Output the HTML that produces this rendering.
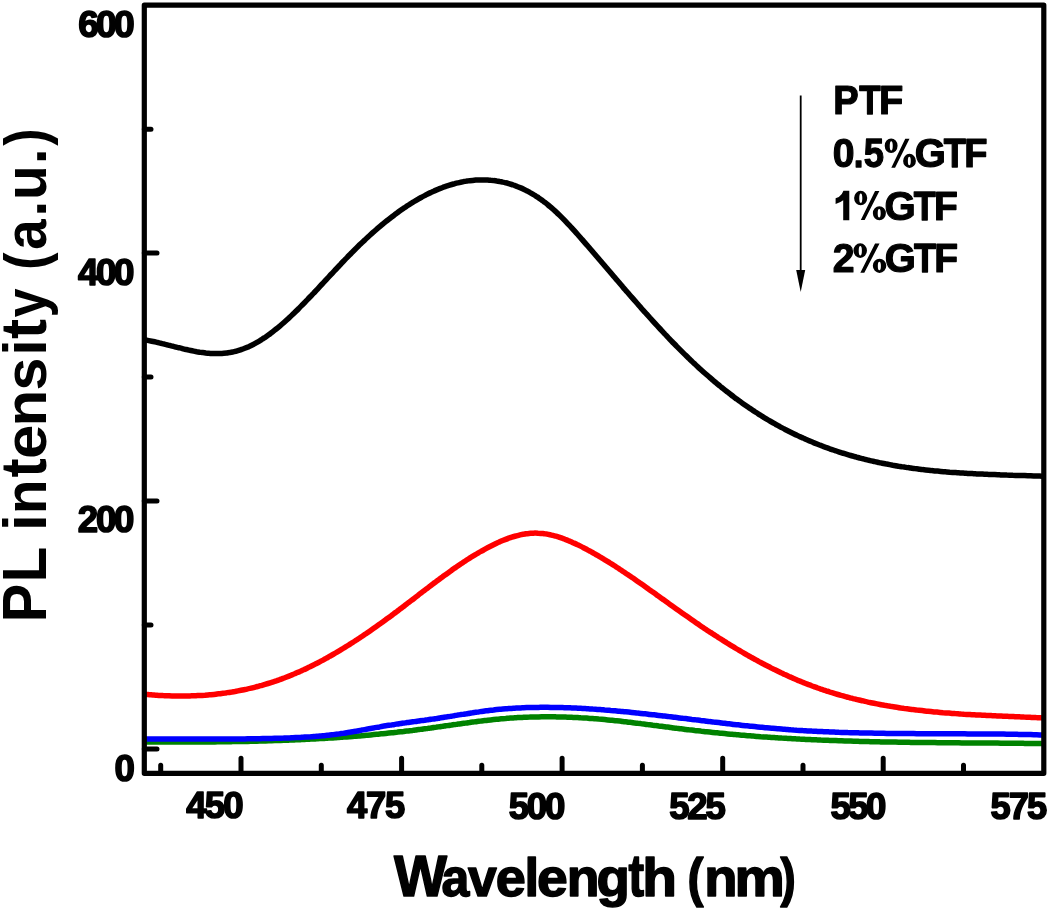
<!DOCTYPE html>
<html><head><meta charset="utf-8"><style>
html,body{margin:0;padding:0;background:#fff;}
svg{display:block;}
text{font-family:"Liberation Sans",sans-serif;font-weight:bold;fill:#000;}
</style></head><body>
<svg width="1050" height="912" viewBox="0 0 1050 912">
<rect width="1050" height="912" fill="#fff"/>
<g fill="none" stroke-linecap="round" stroke-linejoin="round" stroke-width="5.5">
<path d="M145.7,742.0 C146.2,742.0 147.7,742.0 148.7,742.0 C149.7,742.0 150.7,742.0 151.7,742.0 C152.7,742.0 153.7,742.0 154.7,742.0 C155.7,742.0 156.7,742.0 157.7,742.0 C158.7,742.0 159.7,742.0 160.7,742.0 C161.7,742.0 162.7,742.0 163.7,742.0 C164.7,742.0 165.7,742.0 166.7,742.0 C167.7,742.0 168.7,742.0 169.7,742.0 C170.7,742.0 171.7,742.0 172.7,742.0 C173.7,742.0 174.7,742.0 175.7,742.0 C176.7,742.0 177.7,742.0 178.7,742.0 C179.7,742.0 180.7,742.0 181.7,742.0 C182.7,742.0 183.7,742.0 184.7,742.0 C185.7,742.0 186.7,742.0 187.7,742.0 C188.7,742.0 189.7,742.0 190.7,742.0 C191.7,742.0 192.7,742.0 193.7,742.0 C194.7,742.0 195.7,742.0 196.7,742.0 C197.7,742.0 198.7,742.0 199.7,742.0 C200.7,742.0 201.7,742.0 202.7,742.0 C203.7,741.9 204.7,741.9 205.7,741.9 C206.7,741.9 207.7,741.9 208.7,741.9 C209.7,741.9 210.7,741.9 211.7,741.9 C212.7,741.9 213.7,741.9 214.7,741.9 C215.7,741.8 216.7,741.8 217.7,741.8 C218.7,741.8 219.7,741.8 220.7,741.8 C221.7,741.8 222.7,741.8 223.7,741.8 C224.7,741.7 225.7,741.7 226.7,741.7 C227.7,741.7 228.7,741.7 229.7,741.7 C230.7,741.7 231.7,741.6 232.7,741.6 C233.7,741.6 234.7,741.6 235.7,741.6 C236.7,741.6 237.7,741.6 238.7,741.5 C239.7,741.5 240.7,741.5 241.7,741.5 C242.7,741.5 243.7,741.4 244.7,741.4 C245.7,741.4 246.7,741.4 247.7,741.4 C248.7,741.3 249.7,741.3 250.7,741.3 C251.7,741.3 252.7,741.3 253.7,741.2 C254.7,741.2 255.7,741.2 256.7,741.2 C257.7,741.1 258.7,741.1 259.7,741.1 C260.7,741.1 261.7,741.0 262.7,741.0 C263.7,741.0 264.7,740.9 265.7,740.9 C266.7,740.9 267.7,740.9 268.7,740.8 C269.7,740.8 270.7,740.8 271.7,740.7 C272.7,740.7 273.7,740.7 274.7,740.6 C275.7,740.6 276.7,740.6 277.7,740.5 C278.7,740.5 279.7,740.5 280.7,740.4 C281.7,740.4 282.7,740.4 283.7,740.3 C284.7,740.3 285.7,740.3 286.7,740.2 C287.7,740.2 288.7,740.1 289.7,740.1 C290.7,740.1 291.7,740.0 292.7,740.0 C293.7,739.9 294.7,739.9 295.7,739.8 C296.7,739.8 297.7,739.8 298.7,739.7 C299.7,739.7 300.7,739.6 301.7,739.6 C302.7,739.5 303.7,739.5 304.7,739.4 C305.7,739.4 306.7,739.3 307.7,739.3 C308.7,739.2 309.7,739.2 310.7,739.1 C311.7,739.1 312.7,739.0 313.7,739.0 C314.7,738.9 315.7,738.9 316.7,738.8 C317.7,738.8 318.7,738.7 319.7,738.6 C320.7,738.6 321.7,738.5 322.7,738.5 C323.7,738.4 324.7,738.4 325.7,738.3 C326.7,738.2 327.7,738.2 328.7,738.1 C329.7,738.0 330.7,738.0 331.7,737.9 C332.7,737.9 333.7,737.8 334.7,737.7 C335.7,737.7 336.7,737.6 337.7,737.5 C338.7,737.5 339.7,737.4 340.7,737.3 C341.7,737.2 342.7,737.2 343.7,737.1 C344.7,737.0 345.7,737.0 346.7,736.9 C347.7,736.8 348.7,736.7 349.7,736.7 C350.7,736.6 351.7,736.5 352.7,736.4 C353.7,736.3 354.7,736.3 355.7,736.2 C356.7,736.1 357.7,736.0 358.7,735.9 C359.7,735.9 360.7,735.8 361.7,735.7 C362.7,735.6 363.7,735.5 364.7,735.4 C365.7,735.3 366.7,735.3 367.7,735.2 C368.7,735.1 369.7,735.0 370.7,734.9 C371.7,734.8 372.7,734.7 373.7,734.6 C374.7,734.5 375.7,734.4 376.7,734.3 C377.7,734.2 378.7,734.1 379.7,734.0 C380.7,733.9 381.7,733.8 382.7,733.7 C383.7,733.6 384.7,733.5 385.7,733.4 C386.7,733.3 387.7,733.2 388.7,733.1 C389.7,733.0 390.7,732.9 391.7,732.8 C392.7,732.7 393.7,732.6 394.7,732.5 C395.7,732.4 396.7,732.3 397.7,732.1 C398.7,732.0 399.7,731.9 400.7,731.8 C401.7,731.7 402.7,731.6 403.7,731.5 C404.7,731.3 405.7,731.2 406.7,731.1 C407.7,731.0 408.7,730.9 409.7,730.7 C410.7,730.6 411.7,730.5 412.7,730.4 C413.7,730.2 414.7,730.1 415.7,730.0 C416.7,729.9 417.7,729.7 418.7,729.6 C419.7,729.5 420.7,729.3 421.7,729.2 C422.7,729.1 423.7,728.9 424.7,728.8 C425.7,728.7 426.7,728.5 427.7,728.4 C428.7,728.2 429.7,728.1 430.7,728.0 C431.7,727.8 432.7,727.7 433.7,727.5 C434.7,727.4 435.7,727.3 436.7,727.1 C437.7,727.0 438.7,726.8 439.7,726.7 C440.7,726.6 441.7,726.4 442.7,726.3 C443.7,726.1 444.7,726.0 445.7,725.8 C446.7,725.7 447.7,725.6 448.7,725.4 C449.7,725.3 450.7,725.1 451.7,725.0 C452.7,724.8 453.7,724.7 454.7,724.6 C455.7,724.4 456.7,724.3 457.7,724.1 C458.7,724.0 459.7,723.9 460.7,723.7 C461.7,723.6 462.7,723.4 463.7,723.3 C464.7,723.2 465.7,723.0 466.7,722.9 C467.7,722.8 468.7,722.6 469.7,722.5 C470.7,722.3 471.7,722.2 472.7,722.1 C473.7,722.0 474.7,721.8 475.7,721.7 C476.7,721.6 477.7,721.4 478.7,721.3 C479.7,721.2 480.7,721.1 481.7,720.9 C482.7,720.8 483.7,720.7 484.7,720.6 C485.7,720.5 486.7,720.4 487.7,720.2 C488.7,720.1 489.7,720.0 490.7,719.9 C491.7,719.8 492.7,719.7 493.7,719.6 C494.7,719.5 495.7,719.4 496.7,719.3 C497.7,719.2 498.7,719.1 499.7,719.0 C500.7,718.9 501.7,718.8 502.7,718.7 C503.7,718.6 504.7,718.5 505.7,718.5 C506.7,718.4 507.7,718.3 508.7,718.2 C509.7,718.1 510.7,718.1 511.7,718.0 C512.7,717.9 513.7,717.9 514.7,717.8 C515.7,717.7 516.7,717.7 517.7,717.6 C518.7,717.6 519.7,717.5 520.7,717.5 C521.7,717.4 522.7,717.4 523.7,717.3 C524.7,717.3 525.7,717.2 526.7,717.2 C527.7,717.1 528.7,717.1 529.7,717.1 C530.7,717.0 531.7,717.0 532.7,717.0 C533.7,717.0 534.7,716.9 535.7,716.9 C536.7,716.9 537.7,716.9 538.7,716.9 C539.7,716.8 540.7,716.8 541.7,716.8 C542.7,716.8 543.7,716.8 544.7,716.8 C545.7,716.8 546.7,716.8 547.7,716.8 C548.7,716.8 549.7,716.8 550.7,716.8 C551.7,716.8 552.7,716.8 553.7,716.8 C554.7,716.8 555.7,716.9 556.7,716.9 C557.7,716.9 558.7,716.9 559.7,716.9 C560.7,717.0 561.7,717.0 562.7,717.0 C563.7,717.0 564.7,717.1 565.7,717.1 C566.7,717.1 567.7,717.2 568.7,717.2 C569.7,717.2 570.7,717.3 571.7,717.3 C572.7,717.4 573.7,717.4 574.7,717.5 C575.7,717.5 576.7,717.6 577.7,717.6 C578.7,717.7 579.7,717.7 580.7,717.8 C581.7,717.8 582.7,717.9 583.7,718.0 C584.7,718.0 585.7,718.1 586.7,718.1 C587.7,718.2 588.7,718.3 589.7,718.4 C590.7,718.4 591.7,718.5 592.7,718.6 C593.7,718.7 594.7,718.7 595.7,718.8 C596.7,718.9 597.7,719.0 598.7,719.1 C599.7,719.1 600.7,719.2 601.7,719.3 C602.7,719.4 603.7,719.5 604.7,719.6 C605.7,719.7 606.7,719.8 607.7,719.9 C608.7,720.0 609.7,720.1 610.7,720.2 C611.7,720.3 612.7,720.4 613.7,720.5 C614.7,720.6 615.7,720.7 616.7,720.8 C617.7,720.9 618.7,721.0 619.7,721.1 C620.7,721.2 621.7,721.4 622.7,721.5 C623.7,721.6 624.7,721.7 625.7,721.8 C626.7,721.9 627.7,722.1 628.7,722.2 C629.7,722.3 630.7,722.4 631.7,722.5 C632.7,722.7 633.7,722.8 634.7,722.9 C635.7,723.0 636.7,723.1 637.7,723.3 C638.7,723.4 639.7,723.5 640.7,723.6 C641.7,723.8 642.7,723.9 643.7,724.0 C644.7,724.1 645.7,724.3 646.7,724.4 C647.7,724.5 648.7,724.7 649.7,724.8 C650.7,724.9 651.7,725.0 652.7,725.2 C653.7,725.3 654.7,725.4 655.7,725.6 C656.7,725.7 657.7,725.8 658.7,726.0 C659.7,726.1 660.7,726.2 661.7,726.3 C662.7,726.5 663.7,726.6 664.7,726.7 C665.7,726.9 666.7,727.0 667.7,727.1 C668.7,727.2 669.7,727.4 670.7,727.5 C671.7,727.6 672.7,727.8 673.7,727.9 C674.7,728.0 675.7,728.1 676.7,728.3 C677.7,728.4 678.7,728.5 679.7,728.7 C680.7,728.8 681.7,728.9 682.7,729.0 C683.7,729.1 684.7,729.3 685.7,729.4 C686.7,729.5 687.7,729.6 688.7,729.8 C689.7,729.9 690.7,730.0 691.7,730.1 C692.7,730.2 693.7,730.3 694.7,730.5 C695.7,730.6 696.7,730.7 697.7,730.8 C698.7,730.9 699.7,731.0 700.7,731.1 C701.7,731.3 702.7,731.4 703.7,731.5 C704.7,731.6 705.7,731.7 706.7,731.8 C707.7,731.9 708.7,732.0 709.7,732.1 C710.7,732.2 711.7,732.3 712.7,732.4 C713.7,732.5 714.7,732.6 715.7,732.7 C716.7,732.8 717.7,732.9 718.7,733.0 C719.7,733.1 720.7,733.2 721.7,733.3 C722.7,733.4 723.7,733.5 724.7,733.6 C725.7,733.7 726.7,733.8 727.7,733.9 C728.7,734.0 729.7,734.1 730.7,734.2 C731.7,734.3 732.7,734.4 733.7,734.5 C734.7,734.6 735.7,734.6 736.7,734.7 C737.7,734.8 738.7,734.9 739.7,735.0 C740.7,735.1 741.7,735.2 742.7,735.2 C743.7,735.3 744.7,735.4 745.7,735.5 C746.7,735.6 747.7,735.7 748.7,735.7 C749.7,735.8 750.7,735.9 751.7,736.0 C752.7,736.1 753.7,736.1 754.7,736.2 C755.7,736.3 756.7,736.4 757.7,736.4 C758.7,736.5 759.7,736.6 760.7,736.7 C761.7,736.7 762.7,736.8 763.7,736.9 C764.7,736.9 765.7,737.0 766.7,737.1 C767.7,737.2 768.7,737.2 769.7,737.3 C770.7,737.4 771.7,737.4 772.7,737.5 C773.7,737.6 774.7,737.6 775.7,737.7 C776.7,737.8 777.7,737.8 778.7,737.9 C779.7,737.9 780.7,738.0 781.7,738.1 C782.7,738.1 783.7,738.2 784.7,738.3 C785.7,738.3 786.7,738.4 787.7,738.4 C788.7,738.5 789.7,738.5 790.7,738.6 C791.7,738.7 792.7,738.7 793.7,738.8 C794.7,738.8 795.7,738.9 796.7,738.9 C797.7,739.0 798.7,739.0 799.7,739.1 C800.7,739.1 801.7,739.2 802.7,739.2 C803.7,739.3 804.7,739.3 805.7,739.4 C806.7,739.4 807.7,739.5 808.7,739.5 C809.7,739.6 810.7,739.6 811.7,739.7 C812.7,739.7 813.7,739.8 814.7,739.8 C815.7,739.8 816.7,739.9 817.7,739.9 C818.7,740.0 819.7,740.0 820.7,740.1 C821.7,740.1 822.7,740.1 823.7,740.2 C824.7,740.2 825.7,740.3 826.7,740.3 C827.7,740.3 828.7,740.4 829.7,740.4 C830.7,740.5 831.7,740.5 832.7,740.5 C833.7,740.6 834.7,740.6 835.7,740.6 C836.7,740.7 837.7,740.7 838.7,740.7 C839.7,740.8 840.7,740.8 841.7,740.8 C842.7,740.9 843.7,740.9 844.7,740.9 C845.7,741.0 846.7,741.0 847.7,741.0 C848.7,741.1 849.7,741.1 850.7,741.1 C851.7,741.2 852.7,741.2 853.7,741.2 C854.7,741.2 855.7,741.3 856.7,741.3 C857.7,741.3 858.7,741.4 859.7,741.4 C860.7,741.4 861.7,741.4 862.7,741.5 C863.7,741.5 864.7,741.5 865.7,741.5 C866.7,741.6 867.7,741.6 868.7,741.6 C869.7,741.6 870.7,741.7 871.7,741.7 C872.7,741.7 873.7,741.7 874.7,741.7 C875.7,741.8 876.7,741.8 877.7,741.8 C878.7,741.8 879.7,741.9 880.7,741.9 C881.7,741.9 882.7,741.9 883.7,741.9 C884.7,742.0 885.7,742.0 886.7,742.0 C887.7,742.0 888.7,742.0 889.7,742.0 C890.7,742.1 891.7,742.1 892.7,742.1 C893.7,742.1 894.7,742.1 895.7,742.1 C896.7,742.2 897.7,742.2 898.7,742.2 C899.7,742.2 900.7,742.2 901.7,742.2 C902.7,742.3 903.7,742.3 904.7,742.3 C905.7,742.3 906.7,742.3 907.7,742.3 C908.7,742.3 909.7,742.4 910.7,742.4 C911.7,742.4 912.7,742.4 913.7,742.4 C914.7,742.4 915.7,742.4 916.7,742.4 C917.7,742.5 918.7,742.5 919.7,742.5 C920.7,742.5 921.7,742.5 922.7,742.5 C923.7,742.5 924.7,742.5 925.7,742.5 C926.7,742.6 927.7,742.6 928.7,742.6 C929.7,742.6 930.7,742.6 931.7,742.6 C932.7,742.6 933.7,742.6 934.7,742.6 C935.7,742.7 936.7,742.7 937.7,742.7 C938.7,742.7 939.7,742.7 940.7,742.7 C941.7,742.7 942.7,742.7 943.7,742.7 C944.7,742.7 945.7,742.7 946.7,742.7 C947.7,742.8 948.7,742.8 949.7,742.8 C950.7,742.8 951.7,742.8 952.7,742.8 C953.7,742.8 954.7,742.8 955.7,742.8 C956.7,742.8 957.7,742.8 958.7,742.8 C959.7,742.9 960.7,742.9 961.7,742.9 C962.7,742.9 963.7,742.9 964.7,742.9 C965.7,742.9 966.7,742.9 967.7,742.9 C968.7,742.9 969.7,742.9 970.7,742.9 C971.7,742.9 972.7,742.9 973.7,743.0 C974.7,743.0 975.7,743.0 976.7,743.0 C977.7,743.0 978.7,743.0 979.7,743.0 C980.7,743.0 981.7,743.0 982.7,743.0 C983.7,743.0 984.7,743.0 985.7,743.0 C986.7,743.0 987.7,743.1 988.7,743.1 C989.7,743.1 990.7,743.1 991.7,743.1 C992.7,743.1 993.7,743.1 994.7,743.1 C995.7,743.1 996.7,743.1 997.7,743.1 C998.7,743.1 999.7,743.1 1000.7,743.2 C1001.7,743.2 1002.7,743.2 1003.7,743.2 C1004.7,743.2 1005.7,743.2 1006.7,743.2 C1007.7,743.2 1008.7,743.2 1009.7,743.2 C1010.7,743.2 1011.7,743.2 1012.7,743.3 C1013.7,743.3 1014.7,743.3 1015.7,743.3 C1016.7,743.3 1017.7,743.3 1018.7,743.3 C1019.7,743.3 1020.7,743.3 1021.7,743.3 C1022.7,743.3 1023.7,743.4 1024.7,743.4 C1025.7,743.4 1026.7,743.4 1027.7,743.4 C1028.7,743.4 1029.7,743.4 1030.7,743.4 C1031.7,743.4 1032.7,743.5 1033.7,743.5 C1034.7,743.5 1035.7,743.5 1036.7,743.5 C1037.7,743.5 1038.7,743.5 1039.7,743.5 C1040.7,743.6 1042.2,743.6 1042.7,743.6 C1043.2,743.6 1043.0,743.6 1043.0,743.6" stroke="#008200"/>
<path d="M145.7,739.0 C146.2,739.0 147.7,739.0 148.7,739.0 C149.7,739.0 150.7,739.0 151.7,739.0 C152.7,739.0 153.7,739.0 154.7,739.0 C155.7,739.0 156.7,739.0 157.7,739.0 C158.7,739.0 159.7,739.0 160.7,739.0 C161.7,739.0 162.7,739.0 163.7,739.0 C164.7,739.0 165.7,739.0 166.7,739.0 C167.7,739.0 168.7,739.0 169.7,739.0 C170.7,739.0 171.7,739.0 172.7,739.0 C173.7,739.0 174.7,739.0 175.7,739.0 C176.7,739.0 177.7,739.0 178.7,739.0 C179.7,739.0 180.7,739.0 181.7,739.0 C182.7,739.0 183.7,739.0 184.7,739.1 C185.7,739.1 186.7,739.1 187.7,739.1 C188.7,739.1 189.7,739.1 190.7,739.1 C191.7,739.1 192.7,739.1 193.7,739.1 C194.7,739.1 195.7,739.1 196.7,739.1 C197.7,739.1 198.7,739.1 199.7,739.1 C200.7,739.1 201.7,739.1 202.7,739.1 C203.7,739.1 204.7,739.1 205.7,739.1 C206.7,739.1 207.7,739.1 208.7,739.1 C209.7,739.1 210.7,739.1 211.7,739.1 C212.7,739.1 213.7,739.1 214.7,739.1 C215.7,739.1 216.7,739.1 217.7,739.1 C218.7,739.1 219.7,739.0 220.7,739.0 C221.7,739.0 222.7,739.0 223.7,739.0 C224.7,739.0 225.7,739.0 226.7,739.0 C227.7,739.0 228.7,739.0 229.7,739.0 C230.7,739.0 231.7,739.0 232.7,739.0 C233.7,739.0 234.7,739.0 235.7,739.0 C236.7,739.0 237.7,739.0 238.7,738.9 C239.7,738.9 240.7,738.9 241.7,738.9 C242.7,738.9 243.7,738.9 244.7,738.9 C245.7,738.9 246.7,738.9 247.7,738.8 C248.7,738.8 249.7,738.8 250.7,738.8 C251.7,738.8 252.7,738.8 253.7,738.8 C254.7,738.8 255.7,738.7 256.7,738.7 C257.7,738.7 258.7,738.7 259.7,738.7 C260.7,738.6 261.7,738.6 262.7,738.6 C263.7,738.6 264.7,738.6 265.7,738.5 C266.7,738.5 267.7,738.5 268.7,738.5 C269.7,738.5 270.7,738.4 271.7,738.4 C272.7,738.4 273.7,738.4 274.7,738.3 C275.7,738.3 276.7,738.3 277.7,738.3 C278.7,738.2 279.7,738.2 280.7,738.2 C281.7,738.1 282.7,738.1 283.7,738.1 C284.7,738.0 285.7,738.0 286.7,738.0 C287.7,737.9 288.7,737.9 289.7,737.9 C290.7,737.8 291.7,737.8 292.7,737.7 C293.7,737.7 294.7,737.7 295.7,737.6 C296.7,737.6 297.7,737.5 298.7,737.5 C299.7,737.4 300.7,737.4 301.7,737.3 C302.7,737.3 303.7,737.2 304.7,737.1 C305.7,737.1 306.7,737.0 307.7,737.0 C308.7,736.9 309.7,736.8 310.7,736.8 C311.7,736.7 312.7,736.6 313.7,736.5 C314.7,736.5 315.7,736.4 316.7,736.3 C317.7,736.2 318.7,736.1 319.7,736.0 C320.7,736.0 321.7,735.9 322.7,735.8 C323.7,735.7 324.7,735.6 325.7,735.5 C326.7,735.4 327.7,735.3 328.7,735.2 C329.7,735.0 330.7,734.9 331.7,734.8 C332.7,734.7 333.7,734.6 334.7,734.4 C335.7,734.3 336.7,734.2 337.7,734.1 C338.7,733.9 339.7,733.8 340.7,733.6 C341.7,733.5 342.7,733.3 343.7,733.2 C344.7,733.0 345.7,732.9 346.7,732.7 C347.7,732.6 348.7,732.4 349.7,732.2 C350.7,732.1 351.7,731.9 352.7,731.7 C353.7,731.6 354.7,731.4 355.7,731.2 C356.7,731.0 357.7,730.9 358.7,730.7 C359.7,730.5 360.7,730.3 361.7,730.1 C362.7,730.0 363.7,729.8 364.7,729.6 C365.7,729.4 366.7,729.2 367.7,729.0 C368.7,728.9 369.7,728.7 370.7,728.5 C371.7,728.3 372.7,728.1 373.7,727.9 C374.7,727.8 375.7,727.6 376.7,727.4 C377.7,727.2 378.7,727.0 379.7,726.9 C380.7,726.7 381.7,726.5 382.7,726.3 C383.7,726.2 384.7,726.0 385.7,725.8 C386.7,725.7 387.7,725.5 388.7,725.3 C389.7,725.2 390.7,725.0 391.7,724.9 C392.7,724.7 393.7,724.5 394.7,724.4 C395.7,724.2 396.7,724.1 397.7,723.9 C398.7,723.8 399.7,723.6 400.7,723.5 C401.7,723.4 402.7,723.2 403.7,723.1 C404.7,722.9 405.7,722.8 406.7,722.6 C407.7,722.5 408.7,722.4 409.7,722.2 C410.7,722.1 411.7,722.0 412.7,721.8 C413.7,721.7 414.7,721.5 415.7,721.4 C416.7,721.3 417.7,721.1 418.7,721.0 C419.7,720.9 420.7,720.7 421.7,720.6 C422.7,720.4 423.7,720.3 424.7,720.2 C425.7,720.0 426.7,719.9 427.7,719.8 C428.7,719.6 429.7,719.5 430.7,719.3 C431.7,719.2 432.7,719.0 433.7,718.9 C434.7,718.8 435.7,718.6 436.7,718.5 C437.7,718.3 438.7,718.2 439.7,718.0 C440.7,717.9 441.7,717.7 442.7,717.5 C443.7,717.4 444.7,717.2 445.7,717.1 C446.7,716.9 447.7,716.7 448.7,716.6 C449.7,716.4 450.7,716.3 451.7,716.1 C452.7,715.9 453.7,715.8 454.7,715.6 C455.7,715.5 456.7,715.3 457.7,715.1 C458.7,715.0 459.7,714.8 460.7,714.6 C461.7,714.5 462.7,714.3 463.7,714.2 C464.7,714.0 465.7,713.8 466.7,713.7 C467.7,713.5 468.7,713.4 469.7,713.2 C470.7,713.1 471.7,712.9 472.7,712.8 C473.7,712.6 474.7,712.4 475.7,712.3 C476.7,712.2 477.7,712.0 478.7,711.9 C479.7,711.7 480.7,711.6 481.7,711.4 C482.7,711.3 483.7,711.2 484.7,711.0 C485.7,710.9 486.7,710.8 487.7,710.7 C488.7,710.5 489.7,710.4 490.7,710.3 C491.7,710.2 492.7,710.1 493.7,710.0 C494.7,709.8 495.7,709.7 496.7,709.6 C497.7,709.5 498.7,709.4 499.7,709.3 C500.7,709.3 501.7,709.2 502.7,709.1 C503.7,709.0 504.7,708.9 505.7,708.8 C506.7,708.7 507.7,708.7 508.7,708.6 C509.7,708.5 510.7,708.4 511.7,708.4 C512.7,708.3 513.7,708.3 514.7,708.2 C515.7,708.1 516.7,708.1 517.7,708.0 C518.7,708.0 519.7,707.9 520.7,707.9 C521.7,707.8 522.7,707.8 523.7,707.7 C524.7,707.7 525.7,707.7 526.7,707.6 C527.7,707.6 528.7,707.6 529.7,707.5 C530.7,707.5 531.7,707.5 532.7,707.5 C533.7,707.4 534.7,707.4 535.7,707.4 C536.7,707.4 537.7,707.4 538.7,707.4 C539.7,707.4 540.7,707.3 541.7,707.3 C542.7,707.3 543.7,707.3 544.7,707.3 C545.7,707.3 546.7,707.3 547.7,707.3 C548.7,707.3 549.7,707.3 550.7,707.4 C551.7,707.4 552.7,707.4 553.7,707.4 C554.7,707.4 555.7,707.4 556.7,707.4 C557.7,707.5 558.7,707.5 559.7,707.5 C560.7,707.5 561.7,707.6 562.7,707.6 C563.7,707.6 564.7,707.7 565.7,707.7 C566.7,707.7 567.7,707.8 568.7,707.8 C569.7,707.8 570.7,707.9 571.7,707.9 C572.7,708.0 573.7,708.0 574.7,708.0 C575.7,708.1 576.7,708.1 577.7,708.2 C578.7,708.2 579.7,708.3 580.7,708.3 C581.7,708.4 582.7,708.5 583.7,708.5 C584.7,708.6 585.7,708.6 586.7,708.7 C587.7,708.8 588.7,708.8 589.7,708.9 C590.7,708.9 591.7,709.0 592.7,709.1 C593.7,709.1 594.7,709.2 595.7,709.3 C596.7,709.4 597.7,709.4 598.7,709.5 C599.7,709.6 600.7,709.6 601.7,709.7 C602.7,709.8 603.7,709.9 604.7,710.0 C605.7,710.0 606.7,710.1 607.7,710.2 C608.7,710.3 609.7,710.4 610.7,710.5 C611.7,710.5 612.7,710.6 613.7,710.7 C614.7,710.8 615.7,710.9 616.7,711.0 C617.7,711.1 618.7,711.2 619.7,711.3 C620.7,711.4 621.7,711.4 622.7,711.5 C623.7,711.6 624.7,711.7 625.7,711.8 C626.7,711.9 627.7,712.0 628.7,712.1 C629.7,712.2 630.7,712.3 631.7,712.4 C632.7,712.5 633.7,712.6 634.7,712.7 C635.7,712.8 636.7,712.9 637.7,713.1 C638.7,713.2 639.7,713.3 640.7,713.4 C641.7,713.5 642.7,713.6 643.7,713.7 C644.7,713.8 645.7,713.9 646.7,714.0 C647.7,714.1 648.7,714.3 649.7,714.4 C650.7,714.5 651.7,714.6 652.7,714.7 C653.7,714.8 654.7,714.9 655.7,715.0 C656.7,715.2 657.7,715.3 658.7,715.4 C659.7,715.5 660.7,715.6 661.7,715.7 C662.7,715.9 663.7,716.0 664.7,716.1 C665.7,716.2 666.7,716.3 667.7,716.4 C668.7,716.6 669.7,716.7 670.7,716.8 C671.7,716.9 672.7,717.0 673.7,717.2 C674.7,717.3 675.7,717.4 676.7,717.5 C677.7,717.6 678.7,717.8 679.7,717.9 C680.7,718.0 681.7,718.1 682.7,718.3 C683.7,718.4 684.7,718.5 685.7,718.6 C686.7,718.7 687.7,718.9 688.7,719.0 C689.7,719.1 690.7,719.2 691.7,719.4 C692.7,719.5 693.7,719.6 694.7,719.7 C695.7,719.8 696.7,720.0 697.7,720.1 C698.7,720.2 699.7,720.3 700.7,720.5 C701.7,720.6 702.7,720.7 703.7,720.8 C704.7,720.9 705.7,721.1 706.7,721.2 C707.7,721.3 708.7,721.4 709.7,721.6 C710.7,721.7 711.7,721.8 712.7,721.9 C713.7,722.0 714.7,722.2 715.7,722.3 C716.7,722.4 717.7,722.5 718.7,722.6 C719.7,722.7 720.7,722.9 721.7,723.0 C722.7,723.1 723.7,723.2 724.7,723.3 C725.7,723.5 726.7,723.6 727.7,723.7 C728.7,723.8 729.7,723.9 730.7,724.0 C731.7,724.1 732.7,724.3 733.7,724.4 C734.7,724.5 735.7,724.6 736.7,724.7 C737.7,724.8 738.7,724.9 739.7,725.0 C740.7,725.2 741.7,725.3 742.7,725.4 C743.7,725.5 744.7,725.6 745.7,725.7 C746.7,725.8 747.7,725.9 748.7,726.0 C749.7,726.1 750.7,726.2 751.7,726.3 C752.7,726.4 753.7,726.5 754.7,726.6 C755.7,726.7 756.7,726.8 757.7,726.9 C758.7,727.0 759.7,727.1 760.7,727.2 C761.7,727.3 762.7,727.4 763.7,727.5 C764.7,727.6 765.7,727.7 766.7,727.8 C767.7,727.9 768.7,728.0 769.7,728.1 C770.7,728.2 771.7,728.3 772.7,728.3 C773.7,728.4 774.7,728.5 775.7,728.6 C776.7,728.7 777.7,728.8 778.7,728.8 C779.7,728.9 780.7,729.0 781.7,729.1 C782.7,729.2 783.7,729.2 784.7,729.3 C785.7,729.4 786.7,729.5 787.7,729.5 C788.7,729.6 789.7,729.7 790.7,729.8 C791.7,729.8 792.7,729.9 793.7,730.0 C794.7,730.0 795.7,730.1 796.7,730.2 C797.7,730.2 798.7,730.3 799.7,730.4 C800.7,730.4 801.7,730.5 802.7,730.6 C803.7,730.6 804.7,730.7 805.7,730.7 C806.7,730.8 807.7,730.9 808.7,730.9 C809.7,731.0 810.7,731.0 811.7,731.1 C812.7,731.1 813.7,731.2 814.7,731.2 C815.7,731.3 816.7,731.3 817.7,731.4 C818.7,731.4 819.7,731.5 820.7,731.5 C821.7,731.6 822.7,731.6 823.7,731.7 C824.7,731.7 825.7,731.8 826.7,731.8 C827.7,731.8 828.7,731.9 829.7,731.9 C830.7,732.0 831.7,732.0 832.7,732.0 C833.7,732.1 834.7,732.1 835.7,732.2 C836.7,732.2 837.7,732.2 838.7,732.3 C839.7,732.3 840.7,732.3 841.7,732.4 C842.7,732.4 843.7,732.4 844.7,732.5 C845.7,732.5 846.7,732.5 847.7,732.6 C848.7,732.6 849.7,732.6 850.7,732.7 C851.7,732.7 852.7,732.7 853.7,732.7 C854.7,732.8 855.7,732.8 856.7,732.8 C857.7,732.8 858.7,732.9 859.7,732.9 C860.7,732.9 861.7,732.9 862.7,733.0 C863.7,733.0 864.7,733.0 865.7,733.0 C866.7,733.0 867.7,733.1 868.7,733.1 C869.7,733.1 870.7,733.1 871.7,733.1 C872.7,733.2 873.7,733.2 874.7,733.2 C875.7,733.2 876.7,733.2 877.7,733.3 C878.7,733.3 879.7,733.3 880.7,733.3 C881.7,733.3 882.7,733.3 883.7,733.3 C884.7,733.4 885.7,733.4 886.7,733.4 C887.7,733.4 888.7,733.4 889.7,733.4 C890.7,733.4 891.7,733.4 892.7,733.5 C893.7,733.5 894.7,733.5 895.7,733.5 C896.7,733.5 897.7,733.5 898.7,733.5 C899.7,733.5 900.7,733.5 901.7,733.5 C902.7,733.6 903.7,733.6 904.7,733.6 C905.7,733.6 906.7,733.6 907.7,733.6 C908.7,733.6 909.7,733.6 910.7,733.6 C911.7,733.6 912.7,733.6 913.7,733.6 C914.7,733.6 915.7,733.6 916.7,733.7 C917.7,733.7 918.7,733.7 919.7,733.7 C920.7,733.7 921.7,733.7 922.7,733.7 C923.7,733.7 924.7,733.7 925.7,733.7 C926.7,733.7 927.7,733.7 928.7,733.7 C929.7,733.7 930.7,733.7 931.7,733.7 C932.7,733.7 933.7,733.7 934.7,733.7 C935.7,733.7 936.7,733.7 937.7,733.7 C938.7,733.7 939.7,733.7 940.7,733.8 C941.7,733.8 942.7,733.8 943.7,733.8 C944.7,733.8 945.7,733.8 946.7,733.8 C947.7,733.8 948.7,733.8 949.7,733.8 C950.7,733.8 951.7,733.8 952.7,733.8 C953.7,733.8 954.7,733.8 955.7,733.8 C956.7,733.8 957.7,733.8 958.7,733.8 C959.7,733.8 960.7,733.8 961.7,733.8 C962.7,733.8 963.7,733.8 964.7,733.8 C965.7,733.8 966.7,733.8 967.7,733.9 C968.7,733.9 969.7,733.9 970.7,733.9 C971.7,733.9 972.7,733.9 973.7,733.9 C974.7,733.9 975.7,733.9 976.7,733.9 C977.7,733.9 978.7,733.9 979.7,733.9 C980.7,733.9 981.7,733.9 982.7,733.9 C983.7,733.9 984.7,734.0 985.7,734.0 C986.7,734.0 987.7,734.0 988.7,734.0 C989.7,734.0 990.7,734.0 991.7,734.0 C992.7,734.0 993.7,734.0 994.7,734.0 C995.7,734.1 996.7,734.1 997.7,734.1 C998.7,734.1 999.7,734.1 1000.7,734.1 C1001.7,734.1 1002.7,734.1 1003.7,734.1 C1004.7,734.2 1005.7,734.2 1006.7,734.2 C1007.7,734.2 1008.7,734.2 1009.7,734.2 C1010.7,734.2 1011.7,734.3 1012.7,734.3 C1013.7,734.3 1014.7,734.3 1015.7,734.3 C1016.7,734.3 1017.7,734.4 1018.7,734.4 C1019.7,734.4 1020.7,734.4 1021.7,734.4 C1022.7,734.5 1023.7,734.5 1024.7,734.5 C1025.7,734.5 1026.7,734.5 1027.7,734.6 C1028.7,734.6 1029.7,734.6 1030.7,734.6 C1031.7,734.7 1032.7,734.7 1033.7,734.7 C1034.7,734.7 1035.7,734.8 1036.7,734.8 C1037.7,734.8 1038.7,734.8 1039.7,734.9 C1040.7,734.9 1042.2,734.9 1042.7,735.0 C1043.2,735.0 1043.0,735.0 1043.0,735.0" stroke="#0000ff"/>
<path d="M145.0,694.3 C145.5,694.4 147.0,694.5 148.0,694.6 C149.0,694.7 150.0,694.7 151.0,694.8 C152.0,694.9 153.0,695.0 154.0,695.0 C155.0,695.1 156.0,695.2 157.0,695.2 C158.0,695.3 159.0,695.4 160.0,695.4 C161.0,695.5 162.0,695.5 163.0,695.6 C164.0,695.6 165.0,695.7 166.0,695.7 C167.0,695.8 168.0,695.8 169.0,695.8 C170.0,695.9 171.0,695.9 172.0,695.9 C173.0,695.9 174.0,696.0 175.0,696.0 C176.0,696.0 177.0,696.0 178.0,696.0 C179.0,696.0 180.0,696.0 181.0,696.0 C182.0,696.0 183.0,696.0 184.0,696.0 C185.0,696.0 186.0,696.0 187.0,696.0 C188.0,695.9 189.0,695.9 190.0,695.9 C191.0,695.9 192.0,695.8 193.0,695.8 C194.0,695.8 195.0,695.7 196.0,695.7 C197.0,695.6 198.0,695.6 199.0,695.5 C200.0,695.5 201.0,695.4 202.0,695.4 C203.0,695.3 204.0,695.2 205.0,695.2 C206.0,695.1 207.0,695.0 208.0,694.9 C209.0,694.8 210.0,694.8 211.0,694.7 C212.0,694.6 213.0,694.5 214.0,694.4 C215.0,694.3 216.0,694.2 217.0,694.0 C218.0,693.9 219.0,693.8 220.0,693.7 C221.0,693.6 222.0,693.4 223.0,693.3 C224.0,693.2 225.0,693.0 226.0,692.9 C227.0,692.8 228.0,692.6 229.0,692.4 C230.0,692.3 231.0,692.1 232.0,692.0 C233.0,691.8 234.0,691.6 235.0,691.5 C236.0,691.3 237.0,691.1 238.0,690.9 C239.0,690.7 240.0,690.5 241.0,690.3 C242.0,690.1 243.0,689.9 244.0,689.7 C245.0,689.5 246.0,689.3 247.0,689.1 C248.0,688.8 249.0,688.6 250.0,688.4 C251.0,688.1 252.0,687.9 253.0,687.7 C254.0,687.4 255.0,687.2 256.0,686.9 C257.0,686.6 258.0,686.4 259.0,686.1 C260.0,685.8 261.0,685.6 262.0,685.3 C263.0,685.0 264.0,684.7 265.0,684.4 C266.0,684.1 267.0,683.8 268.0,683.5 C269.0,683.2 270.0,682.9 271.0,682.6 C272.0,682.3 273.0,681.9 274.0,681.6 C275.0,681.3 276.0,680.9 277.0,680.6 C278.0,680.2 279.0,679.9 280.0,679.5 C281.0,679.2 282.0,678.8 283.0,678.4 C284.0,678.1 285.0,677.7 286.0,677.3 C287.0,676.9 288.0,676.5 289.0,676.1 C290.0,675.7 291.0,675.3 292.0,674.9 C293.0,674.5 294.0,674.1 295.0,673.6 C296.0,673.2 297.0,672.8 298.0,672.3 C299.0,671.9 300.0,671.4 301.0,671.0 C302.0,670.5 303.0,670.1 304.0,669.6 C305.0,669.2 306.0,668.7 307.0,668.2 C308.0,667.7 309.0,667.2 310.0,666.8 C311.0,666.3 312.0,665.8 313.0,665.3 C314.0,664.8 315.0,664.3 316.0,663.7 C317.0,663.2 318.0,662.7 319.0,662.2 C320.0,661.7 321.0,661.1 322.0,660.6 C323.0,660.1 324.0,659.5 325.0,659.0 C326.0,658.4 327.0,657.9 328.0,657.3 C329.0,656.7 330.0,656.2 331.0,655.6 C332.0,655.0 333.0,654.5 334.0,653.9 C335.0,653.3 336.0,652.7 337.0,652.1 C338.0,651.5 339.0,650.9 340.0,650.3 C341.0,649.7 342.0,649.1 343.0,648.5 C344.0,647.9 345.0,647.3 346.0,646.7 C347.0,646.1 348.0,645.4 349.0,644.8 C350.0,644.2 351.0,643.5 352.0,642.9 C353.0,642.3 354.0,641.6 355.0,641.0 C356.0,640.3 357.0,639.7 358.0,639.0 C359.0,638.4 360.0,637.7 361.0,637.0 C362.0,636.4 363.0,635.7 364.0,635.0 C365.0,634.3 366.0,633.7 367.0,633.0 C368.0,632.3 369.0,631.6 370.0,630.9 C371.0,630.2 372.0,629.5 373.0,628.8 C374.0,628.1 375.0,627.4 376.0,626.7 C377.0,626.0 378.0,625.3 379.0,624.6 C380.0,623.9 381.0,623.2 382.0,622.4 C383.0,621.7 384.0,621.0 385.0,620.3 C386.0,619.5 387.0,618.8 388.0,618.1 C389.0,617.3 390.0,616.6 391.0,615.9 C392.0,615.1 393.0,614.4 394.0,613.6 C395.0,612.9 396.0,612.1 397.0,611.4 C398.0,610.6 399.0,609.9 400.0,609.1 C401.0,608.4 402.0,607.6 403.0,606.8 C404.0,606.1 405.0,605.3 406.0,604.6 C407.0,603.8 408.0,603.0 409.0,602.3 C410.0,601.5 411.0,600.7 412.0,600.0 C413.0,599.2 414.0,598.4 415.0,597.7 C416.0,596.9 417.0,596.1 418.0,595.4 C419.0,594.6 420.0,593.8 421.0,593.1 C422.0,592.3 423.0,591.5 424.0,590.8 C425.0,590.0 426.0,589.2 427.0,588.5 C428.0,587.7 429.0,587.0 430.0,586.2 C431.0,585.5 432.0,584.7 433.0,583.9 C434.0,583.2 435.0,582.4 436.0,581.7 C437.0,580.9 438.0,580.2 439.0,579.5 C440.0,578.7 441.0,578.0 442.0,577.3 C443.0,576.5 444.0,575.8 445.0,575.1 C446.0,574.3 447.0,573.6 448.0,572.9 C449.0,572.2 450.0,571.5 451.0,570.8 C452.0,570.0 453.0,569.3 454.0,568.6 C455.0,567.9 456.0,567.3 457.0,566.6 C458.0,565.9 459.0,565.2 460.0,564.5 C461.0,563.8 462.0,563.2 463.0,562.5 C464.0,561.8 465.0,561.2 466.0,560.5 C467.0,559.9 468.0,559.2 469.0,558.6 C470.0,558.0 471.0,557.3 472.0,556.7 C473.0,556.1 474.0,555.5 475.0,554.9 C476.0,554.3 477.0,553.7 478.0,553.1 C479.0,552.5 480.0,551.9 481.0,551.4 C482.0,550.8 483.0,550.2 484.0,549.7 C485.0,549.1 486.0,548.6 487.0,548.0 C488.0,547.5 489.0,547.0 490.0,546.5 C491.0,546.0 492.0,545.5 493.0,545.0 C494.0,544.5 495.0,544.0 496.0,543.5 C497.0,543.0 498.0,542.6 499.0,542.1 C500.0,541.7 501.0,541.3 502.0,540.8 C503.0,540.4 504.0,540.0 505.0,539.6 C506.0,539.2 507.0,538.8 508.0,538.5 C509.0,538.1 510.0,537.8 511.0,537.4 C512.0,537.1 513.0,536.8 514.0,536.5 C515.0,536.2 516.0,535.9 517.0,535.7 C518.0,535.4 519.0,535.2 520.0,534.9 C521.0,534.7 522.0,534.5 523.0,534.3 C524.0,534.1 525.0,534.0 526.0,533.8 C527.0,533.7 528.0,533.6 529.0,533.5 C530.0,533.4 531.0,533.3 532.0,533.2 C533.0,533.2 534.0,533.1 535.0,533.1 C536.0,533.1 537.0,533.1 538.0,533.2 C539.0,533.2 540.0,533.3 541.0,533.4 C542.0,533.4 543.0,533.6 544.0,533.7 C545.0,533.8 546.0,534.0 547.0,534.1 C548.0,534.3 549.0,534.5 550.0,534.7 C551.0,534.9 552.0,535.2 553.0,535.4 C554.0,535.7 555.0,535.9 556.0,536.2 C557.0,536.5 558.0,536.8 559.0,537.1 C560.0,537.5 561.0,537.8 562.0,538.2 C563.0,538.5 564.0,538.9 565.0,539.3 C566.0,539.6 567.0,540.0 568.0,540.5 C569.0,540.9 570.0,541.3 571.0,541.7 C572.0,542.2 573.0,542.6 574.0,543.1 C575.0,543.5 576.0,544.0 577.0,544.5 C578.0,544.9 579.0,545.4 580.0,545.9 C581.0,546.4 582.0,546.9 583.0,547.5 C584.0,548.0 585.0,548.5 586.0,549.0 C587.0,549.5 588.0,550.1 589.0,550.6 C590.0,551.2 591.0,551.7 592.0,552.3 C593.0,552.8 594.0,553.4 595.0,554.0 C596.0,554.5 597.0,555.1 598.0,555.7 C599.0,556.3 600.0,556.9 601.0,557.5 C602.0,558.0 603.0,558.6 604.0,559.3 C605.0,559.9 606.0,560.5 607.0,561.1 C608.0,561.7 609.0,562.3 610.0,563.0 C611.0,563.6 612.0,564.2 613.0,564.8 C614.0,565.5 615.0,566.1 616.0,566.8 C617.0,567.4 618.0,568.1 619.0,568.7 C620.0,569.4 621.0,570.0 622.0,570.7 C623.0,571.4 624.0,572.0 625.0,572.7 C626.0,573.4 627.0,574.1 628.0,574.7 C629.0,575.4 630.0,576.1 631.0,576.8 C632.0,577.5 633.0,578.1 634.0,578.8 C635.0,579.5 636.0,580.2 637.0,580.9 C638.0,581.6 639.0,582.3 640.0,583.0 C641.0,583.7 642.0,584.4 643.0,585.1 C644.0,585.8 645.0,586.5 646.0,587.2 C647.0,587.9 648.0,588.6 649.0,589.4 C650.0,590.1 651.0,590.8 652.0,591.5 C653.0,592.2 654.0,592.9 655.0,593.6 C656.0,594.3 657.0,595.1 658.0,595.8 C659.0,596.5 660.0,597.2 661.0,597.9 C662.0,598.6 663.0,599.4 664.0,600.1 C665.0,600.8 666.0,601.5 667.0,602.2 C668.0,603.0 669.0,603.7 670.0,604.4 C671.0,605.1 672.0,605.8 673.0,606.5 C674.0,607.2 675.0,608.0 676.0,608.7 C677.0,609.4 678.0,610.1 679.0,610.8 C680.0,611.5 681.0,612.2 682.0,612.9 C683.0,613.6 684.0,614.3 685.0,615.0 C686.0,615.7 687.0,616.4 688.0,617.1 C689.0,617.8 690.0,618.5 691.0,619.2 C692.0,619.9 693.0,620.6 694.0,621.3 C695.0,622.0 696.0,622.7 697.0,623.4 C698.0,624.0 699.0,624.7 700.0,625.4 C701.0,626.1 702.0,626.8 703.0,627.4 C704.0,628.1 705.0,628.8 706.0,629.4 C707.0,630.1 708.0,630.8 709.0,631.4 C710.0,632.1 711.0,632.7 712.0,633.4 C713.0,634.0 714.0,634.7 715.0,635.3 C716.0,636.0 717.0,636.6 718.0,637.3 C719.0,637.9 720.0,638.6 721.0,639.2 C722.0,639.8 723.0,640.5 724.0,641.1 C725.0,641.7 726.0,642.3 727.0,643.0 C728.0,643.6 729.0,644.2 730.0,644.8 C731.0,645.4 732.0,646.0 733.0,646.6 C734.0,647.3 735.0,647.9 736.0,648.5 C737.0,649.1 738.0,649.7 739.0,650.2 C740.0,650.8 741.0,651.4 742.0,652.0 C743.0,652.6 744.0,653.2 745.0,653.8 C746.0,654.3 747.0,654.9 748.0,655.5 C749.0,656.0 750.0,656.6 751.0,657.2 C752.0,657.7 753.0,658.3 754.0,658.8 C755.0,659.4 756.0,659.9 757.0,660.5 C758.0,661.0 759.0,661.6 760.0,662.1 C761.0,662.7 762.0,663.2 763.0,663.7 C764.0,664.2 765.0,664.8 766.0,665.3 C767.0,665.8 768.0,666.3 769.0,666.8 C770.0,667.3 771.0,667.9 772.0,668.4 C773.0,668.9 774.0,669.4 775.0,669.8 C776.0,670.3 777.0,670.8 778.0,671.3 C779.0,671.8 780.0,672.3 781.0,672.8 C782.0,673.2 783.0,673.7 784.0,674.2 C785.0,674.6 786.0,675.1 787.0,675.5 C788.0,676.0 789.0,676.4 790.0,676.9 C791.0,677.3 792.0,677.8 793.0,678.2 C794.0,678.7 795.0,679.1 796.0,679.5 C797.0,679.9 798.0,680.4 799.0,680.8 C800.0,681.2 801.0,681.6 802.0,682.0 C803.0,682.4 804.0,682.8 805.0,683.2 C806.0,683.6 807.0,684.0 808.0,684.4 C809.0,684.8 810.0,685.1 811.0,685.5 C812.0,685.9 813.0,686.3 814.0,686.6 C815.0,687.0 816.0,687.3 817.0,687.7 C818.0,688.1 819.0,688.4 820.0,688.8 C821.0,689.1 822.0,689.4 823.0,689.8 C824.0,690.1 825.0,690.4 826.0,690.8 C827.0,691.1 828.0,691.4 829.0,691.7 C830.0,692.1 831.0,692.4 832.0,692.7 C833.0,693.0 834.0,693.3 835.0,693.6 C836.0,693.9 837.0,694.2 838.0,694.5 C839.0,694.8 840.0,695.1 841.0,695.4 C842.0,695.6 843.0,695.9 844.0,696.2 C845.0,696.5 846.0,696.7 847.0,697.0 C848.0,697.3 849.0,697.5 850.0,697.8 C851.0,698.1 852.0,698.3 853.0,698.6 C854.0,698.8 855.0,699.1 856.0,699.3 C857.0,699.6 858.0,699.8 859.0,700.0 C860.0,700.3 861.0,700.5 862.0,700.7 C863.0,701.0 864.0,701.2 865.0,701.4 C866.0,701.6 867.0,701.8 868.0,702.1 C869.0,702.3 870.0,702.5 871.0,702.7 C872.0,702.9 873.0,703.1 874.0,703.3 C875.0,703.5 876.0,703.7 877.0,703.9 C878.0,704.1 879.0,704.3 880.0,704.5 C881.0,704.7 882.0,704.8 883.0,705.0 C884.0,705.2 885.0,705.4 886.0,705.6 C887.0,705.7 888.0,705.9 889.0,706.1 C890.0,706.2 891.0,706.4 892.0,706.6 C893.0,706.7 894.0,706.9 895.0,707.0 C896.0,707.2 897.0,707.4 898.0,707.5 C899.0,707.7 900.0,707.8 901.0,708.0 C902.0,708.1 903.0,708.2 904.0,708.4 C905.0,708.5 906.0,708.7 907.0,708.8 C908.0,708.9 909.0,709.1 910.0,709.2 C911.0,709.3 912.0,709.4 913.0,709.6 C914.0,709.7 915.0,709.8 916.0,709.9 C917.0,710.1 918.0,710.2 919.0,710.3 C920.0,710.4 921.0,710.5 922.0,710.6 C923.0,710.7 924.0,710.9 925.0,711.0 C926.0,711.1 927.0,711.2 928.0,711.3 C929.0,711.4 930.0,711.5 931.0,711.6 C932.0,711.7 933.0,711.8 934.0,711.9 C935.0,712.0 936.0,712.0 937.0,712.1 C938.0,712.2 939.0,712.3 940.0,712.4 C941.0,712.5 942.0,712.6 943.0,712.7 C944.0,712.7 945.0,712.8 946.0,712.9 C947.0,713.0 948.0,713.1 949.0,713.1 C950.0,713.2 951.0,713.3 952.0,713.4 C953.0,713.4 954.0,713.5 955.0,713.6 C956.0,713.6 957.0,713.7 958.0,713.8 C959.0,713.9 960.0,713.9 961.0,714.0 C962.0,714.0 963.0,714.1 964.0,714.2 C965.0,714.2 966.0,714.3 967.0,714.4 C968.0,714.4 969.0,714.5 970.0,714.5 C971.0,714.6 972.0,714.7 973.0,714.7 C974.0,714.8 975.0,714.8 976.0,714.9 C977.0,714.9 978.0,715.0 979.0,715.0 C980.0,715.1 981.0,715.1 982.0,715.2 C983.0,715.2 984.0,715.3 985.0,715.3 C986.0,715.4 987.0,715.4 988.0,715.5 C989.0,715.5 990.0,715.6 991.0,715.6 C992.0,715.7 993.0,715.7 994.0,715.8 C995.0,715.8 996.0,715.9 997.0,715.9 C998.0,715.9 999.0,716.0 1000.0,716.0 C1001.0,716.1 1002.0,716.1 1003.0,716.2 C1004.0,716.2 1005.0,716.2 1006.0,716.3 C1007.0,716.3 1008.0,716.4 1009.0,716.4 C1010.0,716.5 1011.0,716.5 1012.0,716.5 C1013.0,716.6 1014.0,716.6 1015.0,716.7 C1016.0,716.7 1017.0,716.8 1018.0,716.8 C1019.0,716.8 1020.0,716.9 1021.0,716.9 C1022.0,717.0 1023.0,717.0 1024.0,717.1 C1025.0,717.1 1026.0,717.1 1027.0,717.2 C1028.0,717.2 1029.0,717.3 1030.0,717.3 C1031.0,717.4 1032.0,717.4 1033.0,717.5 C1034.0,717.5 1035.0,717.5 1036.0,717.6 C1037.0,717.6 1038.0,717.7 1039.0,717.7 C1040.0,717.8 1041.3,717.8 1042.0,717.9 C1042.7,717.9 1042.8,717.9 1043.0,717.9" stroke="#ff0000"/>
<path d="M145.7,340.0 C146.2,340.1 147.7,340.4 148.7,340.6 C149.7,340.8 150.7,341.0 151.7,341.2 C152.7,341.4 153.7,341.6 154.7,341.8 C155.7,342.0 156.7,342.3 157.7,342.5 C158.7,342.7 159.7,343.0 160.7,343.2 C161.7,343.4 162.7,343.7 163.7,343.9 C164.7,344.2 165.7,344.4 166.7,344.7 C167.7,344.9 168.7,345.2 169.7,345.4 C170.7,345.7 171.7,345.9 172.7,346.2 C173.7,346.5 174.7,346.7 175.7,347.0 C176.7,347.2 177.7,347.5 178.7,347.7 C179.7,348.0 180.7,348.2 181.7,348.4 C182.7,348.7 183.7,348.9 184.7,349.2 C185.7,349.4 186.7,349.6 187.7,349.8 C188.7,350.1 189.7,350.3 190.7,350.5 C191.7,350.7 192.7,350.9 193.7,351.1 C194.7,351.3 195.7,351.5 196.7,351.7 C197.7,351.8 198.7,352.0 199.7,352.2 C200.7,352.3 201.7,352.5 202.7,352.6 C203.7,352.7 204.7,352.8 205.7,353.0 C206.7,353.1 207.7,353.2 208.7,353.2 C209.7,353.3 210.7,353.4 211.7,353.4 C212.7,353.5 213.7,353.5 214.7,353.6 C215.7,353.6 216.7,353.6 217.7,353.6 C218.7,353.6 219.7,353.5 220.7,353.5 C221.7,353.5 222.7,353.4 223.7,353.3 C224.7,353.2 225.7,353.1 226.7,353.0 C227.7,352.9 228.7,352.7 229.7,352.6 C230.7,352.4 231.7,352.2 232.7,352.0 C233.7,351.8 234.7,351.5 235.7,351.3 C236.7,351.0 237.7,350.7 238.7,350.4 C239.7,350.1 240.7,349.8 241.7,349.4 C242.7,349.1 243.7,348.7 244.7,348.3 C245.7,347.9 246.7,347.5 247.7,347.1 C248.7,346.6 249.7,346.2 250.7,345.7 C251.7,345.2 252.7,344.7 253.7,344.2 C254.7,343.6 255.7,343.1 256.7,342.5 C257.7,342.0 258.7,341.4 259.7,340.8 C260.7,340.2 261.7,339.5 262.7,338.9 C263.7,338.2 264.7,337.6 265.7,336.9 C266.7,336.2 267.7,335.5 268.7,334.8 C269.7,334.1 270.7,333.3 271.7,332.6 C272.7,331.8 273.7,331.0 274.7,330.2 C275.7,329.4 276.7,328.6 277.7,327.8 C278.7,327.0 279.7,326.1 280.7,325.3 C281.7,324.4 282.7,323.6 283.7,322.7 C284.7,321.8 285.7,320.9 286.7,320.0 C287.7,319.1 288.7,318.2 289.7,317.2 C290.7,316.3 291.7,315.4 292.7,314.4 C293.7,313.5 294.7,312.5 295.7,311.5 C296.7,310.5 297.7,309.5 298.7,308.6 C299.7,307.6 300.7,306.6 301.7,305.5 C302.7,304.5 303.7,303.5 304.7,302.5 C305.7,301.5 306.7,300.4 307.7,299.4 C308.7,298.3 309.7,297.3 310.7,296.3 C311.7,295.2 312.7,294.1 313.7,293.1 C314.7,292.0 315.7,291.0 316.7,289.9 C317.7,288.8 318.7,287.8 319.7,286.7 C320.7,285.6 321.7,284.5 322.7,283.5 C323.7,282.4 324.7,281.3 325.7,280.2 C326.7,279.2 327.7,278.1 328.7,277.0 C329.7,275.9 330.7,274.8 331.7,273.8 C332.7,272.7 333.7,271.6 334.7,270.5 C335.7,269.5 336.7,268.4 337.7,267.3 C338.7,266.3 339.7,265.2 340.7,264.2 C341.7,263.1 342.7,262.0 343.7,261.0 C344.7,260.0 345.7,258.9 346.7,257.9 C347.7,256.8 348.7,255.8 349.7,254.8 C350.7,253.8 351.7,252.7 352.7,251.7 C353.7,250.7 354.7,249.7 355.7,248.7 C356.7,247.8 357.7,246.8 358.7,245.8 C359.7,244.8 360.7,243.9 361.7,242.9 C362.7,241.9 363.7,241.0 364.7,240.1 C365.7,239.1 366.7,238.2 367.7,237.3 C368.7,236.3 369.7,235.4 370.7,234.5 C371.7,233.6 372.7,232.7 373.7,231.8 C374.7,231.0 375.7,230.1 376.7,229.2 C377.7,228.4 378.7,227.5 379.7,226.7 C380.7,225.8 381.7,225.0 382.7,224.1 C383.7,223.3 384.7,222.5 385.7,221.7 C386.7,220.9 387.7,220.1 388.7,219.3 C389.7,218.5 390.7,217.7 391.7,217.0 C392.7,216.2 393.7,215.4 394.7,214.7 C395.7,213.9 396.7,213.2 397.7,212.5 C398.7,211.7 399.7,211.0 400.7,210.3 C401.7,209.6 402.7,208.9 403.7,208.2 C404.7,207.6 405.7,206.9 406.7,206.2 C407.7,205.6 408.7,204.9 409.7,204.3 C410.7,203.6 411.7,203.0 412.7,202.4 C413.7,201.8 414.7,201.2 415.7,200.6 C416.7,200.0 417.7,199.4 418.7,198.8 C419.7,198.3 420.7,197.7 421.7,197.2 C422.7,196.6 423.7,196.1 424.7,195.6 C425.7,195.0 426.7,194.5 427.7,194.0 C428.7,193.5 429.7,193.0 430.7,192.6 C431.7,192.1 432.7,191.6 433.7,191.2 C434.7,190.7 435.7,190.3 436.7,189.9 C437.7,189.5 438.7,189.0 439.7,188.6 C440.7,188.2 441.7,187.9 442.7,187.5 C443.7,187.1 444.7,186.8 445.7,186.4 C446.7,186.1 447.7,185.7 448.7,185.4 C449.7,185.1 450.7,184.8 451.7,184.5 C452.7,184.2 453.7,183.9 454.7,183.7 C455.7,183.4 456.7,183.1 457.7,182.9 C458.7,182.7 459.7,182.4 460.7,182.2 C461.7,182.0 462.7,181.8 463.7,181.6 C464.7,181.5 465.7,181.3 466.7,181.1 C467.7,181.0 468.7,180.8 469.7,180.7 C470.7,180.6 471.7,180.5 472.7,180.4 C473.7,180.3 474.7,180.2 475.7,180.1 C476.7,180.1 477.7,180.0 478.7,180.0 C479.7,179.9 480.7,179.9 481.7,179.9 C482.7,179.9 483.7,179.9 484.7,179.9 C485.7,180.0 486.7,180.0 487.7,180.0 C488.7,180.1 489.7,180.2 490.7,180.3 C491.7,180.3 492.7,180.4 493.7,180.6 C494.7,180.7 495.7,180.8 496.7,181.0 C497.7,181.1 498.7,181.3 499.7,181.5 C500.7,181.6 501.7,181.8 502.7,182.1 C503.7,182.3 504.7,182.5 505.7,182.8 C506.7,183.0 507.7,183.3 508.7,183.6 C509.7,183.9 510.7,184.2 511.7,184.5 C512.7,184.8 513.7,185.2 514.7,185.5 C515.7,185.9 516.7,186.3 517.7,186.7 C518.7,187.1 519.7,187.5 520.7,187.9 C521.7,188.3 522.7,188.8 523.7,189.3 C524.7,189.8 525.7,190.2 526.7,190.8 C527.7,191.3 528.7,191.8 529.7,192.4 C530.7,192.9 531.7,193.5 532.7,194.1 C533.7,194.7 534.7,195.3 535.7,195.9 C536.7,196.6 537.7,197.2 538.7,197.9 C539.7,198.6 540.7,199.3 541.7,200.0 C542.7,200.8 543.7,201.5 544.7,202.3 C545.7,203.0 546.7,203.8 547.7,204.6 C548.7,205.5 549.7,206.3 550.7,207.1 C551.7,208.0 552.7,208.9 553.7,209.8 C554.7,210.7 555.7,211.6 556.7,212.5 C557.7,213.5 558.7,214.4 559.7,215.4 C560.7,216.4 561.7,217.4 562.7,218.4 C563.7,219.4 564.7,220.4 565.7,221.5 C566.7,222.5 567.7,223.6 568.7,224.6 C569.7,225.7 570.7,226.8 571.7,227.9 C572.7,229.0 573.7,230.1 574.7,231.2 C575.7,232.3 576.7,233.4 577.7,234.5 C578.7,235.6 579.7,236.8 580.7,237.9 C581.7,239.1 582.7,240.2 583.7,241.4 C584.7,242.5 585.7,243.7 586.7,244.8 C587.7,246.0 588.7,247.1 589.7,248.3 C590.7,249.5 591.7,250.6 592.7,251.8 C593.7,253.0 594.7,254.1 595.7,255.3 C596.7,256.5 597.7,257.6 598.7,258.8 C599.7,260.0 600.7,261.1 601.7,262.3 C602.7,263.5 603.7,264.6 604.7,265.8 C605.7,267.0 606.7,268.1 607.7,269.3 C608.7,270.5 609.7,271.6 610.7,272.8 C611.7,274.0 612.7,275.2 613.7,276.3 C614.7,277.5 615.7,278.7 616.7,279.8 C617.7,281.0 618.7,282.1 619.7,283.3 C620.7,284.5 621.7,285.6 622.7,286.8 C623.7,287.9 624.7,289.1 625.7,290.3 C626.7,291.4 627.7,292.6 628.7,293.7 C629.7,294.9 630.7,296.0 631.7,297.2 C632.7,298.3 633.7,299.5 634.7,300.6 C635.7,301.8 636.7,302.9 637.7,304.0 C638.7,305.2 639.7,306.3 640.7,307.4 C641.7,308.6 642.7,309.7 643.7,310.8 C644.7,311.9 645.7,313.1 646.7,314.2 C647.7,315.3 648.7,316.4 649.7,317.5 C650.7,318.6 651.7,319.7 652.7,320.8 C653.7,321.9 654.7,323.0 655.7,324.1 C656.7,325.2 657.7,326.3 658.7,327.4 C659.7,328.5 660.7,329.6 661.7,330.6 C662.7,331.7 663.7,332.8 664.7,333.9 C665.7,334.9 666.7,336.0 667.7,337.0 C668.7,338.1 669.7,339.1 670.7,340.2 C671.7,341.2 672.7,342.3 673.7,343.3 C674.7,344.3 675.7,345.3 676.7,346.4 C677.7,347.4 678.7,348.4 679.7,349.4 C680.7,350.4 681.7,351.4 682.7,352.4 C683.7,353.4 684.7,354.4 685.7,355.3 C686.7,356.3 687.7,357.3 688.7,358.3 C689.7,359.2 690.7,360.2 691.7,361.1 C692.7,362.1 693.7,363.0 694.7,363.9 C695.7,364.9 696.7,365.8 697.7,366.7 C698.7,367.7 699.7,368.6 700.7,369.5 C701.7,370.4 702.7,371.3 703.7,372.2 C704.7,373.1 705.7,373.9 706.7,374.8 C707.7,375.7 708.7,376.6 709.7,377.4 C710.7,378.3 711.7,379.2 712.7,380.0 C713.7,380.9 714.7,381.7 715.7,382.5 C716.7,383.4 717.7,384.2 718.7,385.0 C719.7,385.8 720.7,386.7 721.7,387.5 C722.7,388.3 723.7,389.1 724.7,389.9 C725.7,390.7 726.7,391.4 727.7,392.2 C728.7,393.0 729.7,393.8 730.7,394.5 C731.7,395.3 732.7,396.1 733.7,396.8 C734.7,397.6 735.7,398.3 736.7,399.1 C737.7,399.8 738.7,400.5 739.7,401.2 C740.7,402.0 741.7,402.7 742.7,403.4 C743.7,404.1 744.7,404.8 745.7,405.5 C746.7,406.2 747.7,406.9 748.7,407.6 C749.7,408.2 750.7,408.9 751.7,409.6 C752.7,410.3 753.7,410.9 754.7,411.6 C755.7,412.2 756.7,412.9 757.7,413.5 C758.7,414.2 759.7,414.8 760.7,415.4 C761.7,416.0 762.7,416.7 763.7,417.3 C764.7,417.9 765.7,418.5 766.7,419.1 C767.7,419.7 768.7,420.3 769.7,420.9 C770.7,421.5 771.7,422.0 772.7,422.6 C773.7,423.2 774.7,423.7 775.7,424.3 C776.7,424.9 777.7,425.4 778.7,426.0 C779.7,426.5 780.7,427.1 781.7,427.6 C782.7,428.1 783.7,428.6 784.7,429.2 C785.7,429.7 786.7,430.2 787.7,430.7 C788.7,431.2 789.7,431.7 790.7,432.2 C791.7,432.7 792.7,433.2 793.7,433.7 C794.7,434.2 795.7,434.7 796.7,435.1 C797.7,435.6 798.7,436.1 799.7,436.6 C800.7,437.0 801.7,437.5 802.7,437.9 C803.7,438.4 804.7,438.8 805.7,439.3 C806.7,439.7 807.7,440.1 808.7,440.6 C809.7,441.0 810.7,441.4 811.7,441.8 C812.7,442.2 813.7,442.7 814.7,443.1 C815.7,443.5 816.7,443.9 817.7,444.3 C818.7,444.7 819.7,445.1 820.7,445.4 C821.7,445.8 822.7,446.2 823.7,446.6 C824.7,446.9 825.7,447.3 826.7,447.7 C827.7,448.0 828.7,448.4 829.7,448.8 C830.7,449.1 831.7,449.5 832.7,449.8 C833.7,450.2 834.7,450.5 835.7,450.8 C836.7,451.2 837.7,451.5 838.7,451.8 C839.7,452.1 840.7,452.5 841.7,452.8 C842.7,453.1 843.7,453.4 844.7,453.7 C845.7,454.0 846.7,454.3 847.7,454.6 C848.7,454.9 849.7,455.2 850.7,455.5 C851.7,455.8 852.7,456.1 853.7,456.3 C854.7,456.6 855.7,456.9 856.7,457.2 C857.7,457.4 858.7,457.7 859.7,458.0 C860.7,458.2 861.7,458.5 862.7,458.7 C863.7,459.0 864.7,459.2 865.7,459.5 C866.7,459.7 867.7,460.0 868.7,460.2 C869.7,460.4 870.7,460.7 871.7,460.9 C872.7,461.1 873.7,461.4 874.7,461.6 C875.7,461.8 876.7,462.0 877.7,462.2 C878.7,462.4 879.7,462.7 880.7,462.9 C881.7,463.1 882.7,463.3 883.7,463.5 C884.7,463.7 885.7,463.9 886.7,464.1 C887.7,464.2 888.7,464.4 889.7,464.6 C890.7,464.8 891.7,465.0 892.7,465.2 C893.7,465.3 894.7,465.5 895.7,465.7 C896.7,465.9 897.7,466.0 898.7,466.2 C899.7,466.3 900.7,466.5 901.7,466.7 C902.7,466.8 903.7,467.0 904.7,467.1 C905.7,467.3 906.7,467.4 907.7,467.6 C908.7,467.7 909.7,467.9 910.7,468.0 C911.7,468.2 912.7,468.3 913.7,468.4 C914.7,468.6 915.7,468.7 916.7,468.8 C917.7,468.9 918.7,469.1 919.7,469.2 C920.7,469.3 921.7,469.4 922.7,469.6 C923.7,469.7 924.7,469.8 925.7,469.9 C926.7,470.0 927.7,470.1 928.7,470.2 C929.7,470.3 930.7,470.4 931.7,470.6 C932.7,470.7 933.7,470.8 934.7,470.9 C935.7,471.0 936.7,471.0 937.7,471.1 C938.7,471.2 939.7,471.3 940.7,471.4 C941.7,471.5 942.7,471.6 943.7,471.7 C944.7,471.8 945.7,471.8 946.7,471.9 C947.7,472.0 948.7,472.1 949.7,472.2 C950.7,472.2 951.7,472.3 952.7,472.4 C953.7,472.5 954.7,472.5 955.7,472.6 C956.7,472.7 957.7,472.7 958.7,472.8 C959.7,472.9 960.7,472.9 961.7,473.0 C962.7,473.1 963.7,473.1 964.7,473.2 C965.7,473.3 966.7,473.3 967.7,473.4 C968.7,473.4 969.7,473.5 970.7,473.5 C971.7,473.6 972.7,473.6 973.7,473.7 C974.7,473.8 975.7,473.8 976.7,473.9 C977.7,473.9 978.7,474.0 979.7,474.0 C980.7,474.0 981.7,474.1 982.7,474.1 C983.7,474.2 984.7,474.2 985.7,474.3 C986.7,474.3 987.7,474.4 988.7,474.4 C989.7,474.4 990.7,474.5 991.7,474.5 C992.7,474.6 993.7,474.6 994.7,474.6 C995.7,474.7 996.7,474.7 997.7,474.7 C998.7,474.8 999.7,474.8 1000.7,474.9 C1001.7,474.9 1002.7,474.9 1003.7,475.0 C1004.7,475.0 1005.7,475.0 1006.7,475.1 C1007.7,475.1 1008.7,475.1 1009.7,475.2 C1010.7,475.2 1011.7,475.2 1012.7,475.3 C1013.7,475.3 1014.7,475.3 1015.7,475.4 C1016.7,475.4 1017.7,475.4 1018.7,475.4 C1019.7,475.5 1020.7,475.5 1021.7,475.5 C1022.7,475.6 1023.7,475.6 1024.7,475.6 C1025.7,475.7 1026.7,475.7 1027.7,475.7 C1028.7,475.8 1029.7,475.8 1030.7,475.8 C1031.7,475.9 1032.7,475.9 1033.7,475.9 C1034.7,475.9 1035.7,476.0 1036.7,476.0 C1037.7,476.0 1038.7,476.1 1039.7,476.1 C1040.7,476.1 1042.2,476.2 1042.7,476.2 C1043.2,476.2 1043.0,476.2 1043.0,476.2" stroke="#000"/>
</g>
<path d="M144.3,5.2H1043.8V773.3H144.3Z" fill="none" stroke="#000" stroke-width="5.2" stroke-linejoin="round"/>
<path d="M144.3,253.1H157.0 M144.3,501.1H157.0 M144.3,749.0H157.0 M144.3,129.2H151.0 M144.3,377.1H151.0 M144.3,625.0H151.0 M241.0,773.3V758.3 M401.6,773.3V758.3 M562.1,773.3V758.3 M722.7,773.3V758.3 M883.2,773.3V758.3 M160.7,773.3V765.3 M321.3,773.3V765.3 M481.8,773.3V765.3 M642.4,773.3V765.3 M803.0,773.3V765.3 M963.5,773.3V765.3" fill="none" stroke="#000" stroke-width="5" stroke-linecap="round"/>
<path d="M800.7,95.5V272" stroke="#000" stroke-width="1.8" fill="none"/>
<path d="M796.2,270L800.7,292L805.2,270Z" fill="#000"/>
<g opacity="0.999">
<text transform="translate(78.20,36.83) scale(0.3718,0.3718)" font-size="100" stroke="#000" stroke-width="1.6" vector-effect="non-scaling-stroke" stroke-linejoin="round">6</text>
<text transform="translate(96.12,36.83) scale(0.3718,0.3718)" font-size="100" stroke="#000" stroke-width="1.6" vector-effect="non-scaling-stroke" stroke-linejoin="round">0</text>
<text transform="translate(114.05,36.83) scale(0.3718,0.3718)" font-size="100" stroke="#000" stroke-width="1.6" vector-effect="non-scaling-stroke" stroke-linejoin="round">0</text>
<text transform="translate(77.95,284.53) scale(0.3676,0.3676)" font-size="100" stroke="#000" stroke-width="1.6" vector-effect="non-scaling-stroke" stroke-linejoin="round">4</text>
<text transform="translate(95.96,284.53) scale(0.3676,0.3676)" font-size="100" stroke="#000" stroke-width="1.6" vector-effect="non-scaling-stroke" stroke-linejoin="round">0</text>
<text transform="translate(113.97,284.53) scale(0.3676,0.3676)" font-size="100" stroke="#000" stroke-width="1.6" vector-effect="non-scaling-stroke" stroke-linejoin="round">0</text>
<text transform="translate(77.82,532.13) scale(0.3662,0.3662)" font-size="100" stroke="#000" stroke-width="1.6" vector-effect="non-scaling-stroke" stroke-linejoin="round">2</text>
<text transform="translate(95.93,532.13) scale(0.3662,0.3662)" font-size="100" stroke="#000" stroke-width="1.6" vector-effect="non-scaling-stroke" stroke-linejoin="round">0</text>
<text transform="translate(114.04,532.13) scale(0.3662,0.3662)" font-size="100" stroke="#000" stroke-width="1.6" vector-effect="non-scaling-stroke" stroke-linejoin="round">0</text>
<text transform="translate(114.38,780.62) scale(0.3663,0.3775)" font-size="100" stroke="#000" stroke-width="1.6" vector-effect="non-scaling-stroke" stroke-linejoin="round">0</text>
<text transform="translate(186.15,818.43) scale(0.3662,0.3662)" font-size="100" stroke="#000" stroke-width="1.6" vector-effect="non-scaling-stroke" stroke-linejoin="round">4</text>
<text transform="translate(204.70,818.43) scale(0.3662,0.3662)" font-size="100" stroke="#000" stroke-width="1.6" vector-effect="non-scaling-stroke" stroke-linejoin="round">5</text>
<text transform="translate(223.24,818.43) scale(0.3662,0.3662)" font-size="100" stroke="#000" stroke-width="1.6" vector-effect="non-scaling-stroke" stroke-linejoin="round">0</text>
<text transform="translate(346.95,818.44) scale(0.3634,0.3634)" font-size="100" stroke="#000" stroke-width="1.6" vector-effect="non-scaling-stroke" stroke-linejoin="round">4</text>
<text transform="translate(366.00,818.44) scale(0.3634,0.3634)" font-size="100" stroke="#000" stroke-width="1.6" vector-effect="non-scaling-stroke" stroke-linejoin="round">7</text>
<text transform="translate(385.04,818.44) scale(0.3634,0.3634)" font-size="100" stroke="#000" stroke-width="1.6" vector-effect="non-scaling-stroke" stroke-linejoin="round">5</text>
<text transform="translate(508.70,818.63) scale(0.3662,0.3662)" font-size="100" stroke="#000" stroke-width="1.6" vector-effect="non-scaling-stroke" stroke-linejoin="round">5</text>
<text transform="translate(526.82,818.63) scale(0.3662,0.3662)" font-size="100" stroke="#000" stroke-width="1.6" vector-effect="non-scaling-stroke" stroke-linejoin="round">0</text>
<text transform="translate(544.94,818.63) scale(0.3662,0.3662)" font-size="100" stroke="#000" stroke-width="1.6" vector-effect="non-scaling-stroke" stroke-linejoin="round">0</text>
<text transform="translate(669.20,818.63) scale(0.3662,0.3662)" font-size="100" stroke="#000" stroke-width="1.6" vector-effect="non-scaling-stroke" stroke-linejoin="round">5</text>
<text transform="translate(687.35,818.63) scale(0.3662,0.3662)" font-size="100" stroke="#000" stroke-width="1.6" vector-effect="non-scaling-stroke" stroke-linejoin="round">2</text>
<text transform="translate(705.49,818.63) scale(0.3662,0.3662)" font-size="100" stroke="#000" stroke-width="1.6" vector-effect="non-scaling-stroke" stroke-linejoin="round">5</text>
<text transform="translate(830.40,818.63) scale(0.3662,0.3662)" font-size="100" stroke="#000" stroke-width="1.6" vector-effect="non-scaling-stroke" stroke-linejoin="round">5</text>
<text transform="translate(848.22,818.63) scale(0.3662,0.3662)" font-size="100" stroke="#000" stroke-width="1.6" vector-effect="non-scaling-stroke" stroke-linejoin="round">5</text>
<text transform="translate(866.04,818.63) scale(0.3662,0.3662)" font-size="100" stroke="#000" stroke-width="1.6" vector-effect="non-scaling-stroke" stroke-linejoin="round">0</text>
<text transform="translate(990.41,818.54) scale(0.3634,0.3634)" font-size="100" stroke="#000" stroke-width="1.6" vector-effect="non-scaling-stroke" stroke-linejoin="round">5</text>
<text transform="translate(1008.68,818.54) scale(0.3634,0.3634)" font-size="100" stroke="#000" stroke-width="1.6" vector-effect="non-scaling-stroke" stroke-linejoin="round">7</text>
<text transform="translate(1026.94,818.54) scale(0.3634,0.3634)" font-size="100" stroke="#000" stroke-width="1.6" vector-effect="non-scaling-stroke" stroke-linejoin="round">5</text>
<text transform="translate(833.23,114.40) scale(0.3807,0.4087)" font-size="100" stroke="#000" stroke-width="1.2" vector-effect="non-scaling-stroke" stroke-linejoin="round">P</text>
<text transform="translate(859.15,114.40) scale(0.3492,0.4087)" font-size="100" stroke="#000" stroke-width="1.2" vector-effect="non-scaling-stroke" stroke-linejoin="round">T</text>
<text transform="translate(879.11,114.40) scale(0.3980,0.4087)" font-size="100" stroke="#000" stroke-width="1.2" vector-effect="non-scaling-stroke" stroke-linejoin="round">F</text>
<text transform="translate(832.83,167.30) scale(0.3916,0.4087)" font-size="100" stroke="#000" stroke-width="1.2" vector-effect="non-scaling-stroke" stroke-linejoin="round">0</text>
<text transform="translate(853.65,167.30) scale(0.3500,0.4087)" font-size="100" stroke="#000" stroke-width="1.2" vector-effect="non-scaling-stroke" stroke-linejoin="round">.</text>
<text transform="translate(863.81,167.30) scale(0.3640,0.4087)" font-size="100" stroke="#000" stroke-width="1.2" vector-effect="non-scaling-stroke" stroke-linejoin="round">5</text>
<path transform="translate(884.70,138.50) scale(0.9689,0.9304)" fill="#000" fill-rule="evenodd" d="M0.00,7.80a6.65,7.80 0 1,0 13.30,0a6.65,7.80 0 1,0 -13.30,0ZM5.20,7.90a1.55,5.05 0 1,0 3.10,0a1.55,5.05 0 1,0 -3.10,0ZM19.00,24.05a6.60,7.55 0 1,0 13.20,0a6.60,7.55 0 1,0 -13.20,0ZM23.90,24.20a1.50,4.60 0 1,0 3.00,0a1.50,4.60 0 1,0 -3.00,0ZM6.8,31.4L10.7,31.4L25.6,0.3L21.2,0.3Z"/>
<text transform="translate(914.70,167.30) scale(0.4000,0.4087)" font-size="100" stroke="#000" stroke-width="1.2" vector-effect="non-scaling-stroke" stroke-linejoin="round">G</text>
<text transform="translate(943.74,167.30) scale(0.3610,0.4087)" font-size="100" stroke="#000" stroke-width="1.2" vector-effect="non-scaling-stroke" stroke-linejoin="round">T</text>
<text transform="translate(964.13,167.30) scale(0.3804,0.4087)" font-size="100" stroke="#000" stroke-width="1.2" vector-effect="non-scaling-stroke" stroke-linejoin="round">F</text>
<path transform="translate(835.30,190.80) scale(1.0000,0.9932)" fill="#000" d="M14,0L14,29.6L7.9,29.6L7.9,9.5Q4.7,12.1 0.3,13.3L0.3,7.6Q4.2,6.3 6.5,3.1Q7.5,1.5 8.1,0Z"/>
<path transform="translate(854.10,190.80) scale(0.9876,0.9304)" fill="#000" fill-rule="evenodd" d="M0.00,7.80a6.65,7.80 0 1,0 13.30,0a6.65,7.80 0 1,0 -13.30,0ZM5.20,7.90a1.55,5.05 0 1,0 3.10,0a1.55,5.05 0 1,0 -3.10,0ZM19.00,24.05a6.60,7.55 0 1,0 13.20,0a6.60,7.55 0 1,0 -13.20,0ZM23.90,24.20a1.50,4.60 0 1,0 3.00,0a1.50,4.60 0 1,0 -3.00,0ZM6.8,31.4L10.7,31.4L25.6,0.3L21.2,0.3Z"/>
<text transform="translate(884.49,219.60) scale(0.4015,0.4087)" font-size="100" stroke="#000" stroke-width="1.2" vector-effect="non-scaling-stroke" stroke-linejoin="round">G</text>
<text transform="translate(913.84,219.60) scale(0.3593,0.4087)" font-size="100" stroke="#000" stroke-width="1.2" vector-effect="non-scaling-stroke" stroke-linejoin="round">T</text>
<text transform="translate(934.06,219.60) scale(0.3902,0.4087)" font-size="100" stroke="#000" stroke-width="1.2" vector-effect="non-scaling-stroke" stroke-linejoin="round">F</text>
<text transform="translate(832.63,272.30) scale(0.3917,0.4116)" font-size="100" stroke="#000" stroke-width="1.2" vector-effect="non-scaling-stroke" stroke-linejoin="round">2</text>
<path transform="translate(853.40,243.30) scale(1.0217,0.9367)" fill="#000" fill-rule="evenodd" d="M0.00,7.80a6.65,7.80 0 1,0 13.30,0a6.65,7.80 0 1,0 -13.30,0ZM5.20,7.90a1.55,5.05 0 1,0 3.10,0a1.55,5.05 0 1,0 -3.10,0ZM19.00,24.05a6.60,7.55 0 1,0 13.20,0a6.60,7.55 0 1,0 -13.20,0ZM23.90,24.20a1.50,4.60 0 1,0 3.00,0a1.50,4.60 0 1,0 -3.00,0ZM6.8,31.4L10.7,31.4L25.6,0.3L21.2,0.3Z"/>
<text transform="translate(884.80,272.30) scale(0.4000,0.4116)" font-size="100" stroke="#000" stroke-width="1.2" vector-effect="non-scaling-stroke" stroke-linejoin="round">G</text>
<text transform="translate(914.04,272.30) scale(0.3593,0.4116)" font-size="100" stroke="#000" stroke-width="1.2" vector-effect="non-scaling-stroke" stroke-linejoin="round">T</text>
<text transform="translate(934.26,272.30) scale(0.3902,0.4116)" font-size="100" stroke="#000" stroke-width="1.2" vector-effect="non-scaling-stroke" stroke-linejoin="round">F</text>
<text transform="translate(394.05,896.35) scale(0.5617,0.5710)" font-size="100" stroke="#000" stroke-width="1.5" vector-effect="non-scaling-stroke" stroke-linejoin="round">W</text>
<text transform="translate(441.55,896.35) scale(0.5000,0.5278)" font-size="100" stroke="#000" stroke-width="1.5" vector-effect="non-scaling-stroke" stroke-linejoin="round">a</text>
<text transform="translate(467.89,896.35) scale(0.5174,0.5283)" font-size="100" stroke="#000" stroke-width="1.5" vector-effect="non-scaling-stroke" stroke-linejoin="round">v</text>
<text transform="translate(495.68,896.35) scale(0.5417,0.5278)" font-size="100" stroke="#000" stroke-width="1.5" vector-effect="non-scaling-stroke" stroke-linejoin="round">e</text>
<text transform="translate(524.47,896.35) scale(0.5259,0.5448)" font-size="100" stroke="#000" stroke-width="1.5" vector-effect="non-scaling-stroke" stroke-linejoin="round">l</text>
<text transform="translate(537.03,896.35) scale(0.5542,0.5278)" font-size="100" stroke="#000" stroke-width="1.5" vector-effect="non-scaling-stroke" stroke-linejoin="round">e</text>
<text transform="translate(566.67,896.35) scale(0.5361,0.5278)" font-size="100" stroke="#000" stroke-width="1.5" vector-effect="non-scaling-stroke" stroke-linejoin="round">n</text>
<text transform="translate(596.56,896.35) scale(0.5465,0.5278)" font-size="100" stroke="#000" stroke-width="1.5" vector-effect="non-scaling-stroke" stroke-linejoin="round">g</text>
<text transform="translate(628.58,896.35) scale(0.4677,0.5877)" font-size="100" stroke="#000" stroke-width="1.5" vector-effect="non-scaling-stroke" stroke-linejoin="round">t</text>
<text transform="translate(642.27,896.35) scale(0.5687,0.5448)" font-size="100" stroke="#000" stroke-width="1.5" vector-effect="non-scaling-stroke" stroke-linejoin="round">h</text>
<text transform="translate(687.46,896.35) scale(0.4786,0.5434)" font-size="100" stroke="#000" stroke-width="1.5" vector-effect="non-scaling-stroke" stroke-linejoin="round">(</text>
<text transform="translate(704.21,896.35) scale(0.5443,0.5278)" font-size="100" stroke="#000" stroke-width="1.5" vector-effect="non-scaling-stroke" stroke-linejoin="round">n</text>
<text transform="translate(734.47,896.35) scale(0.5658,0.5278)" font-size="100" stroke="#000" stroke-width="1.5" vector-effect="non-scaling-stroke" stroke-linejoin="round">m</text>
<text transform="translate(780.52,896.35) scale(0.4571,0.5434)" font-size="100" stroke="#000" stroke-width="1.5" vector-effect="non-scaling-stroke" stroke-linejoin="round">)</text>
<text transform="translate(46.40,622.25) rotate(-90) scale(0.5772,0.6330)" font-size="100">P</text>
<text transform="translate(46.40,582.61) rotate(-90) scale(0.5864,0.6330)" font-size="100">L</text>
<text transform="translate(46.40,530.95) rotate(-90) scale(0.6074,0.6050)" font-size="100">i</text>
<text transform="translate(46.40,514.20) rotate(-90) scale(0.5691,0.5960)" font-size="100">n</text>
<text transform="translate(46.40,477.57) rotate(-90) scale(0.5742,0.6400)" font-size="100">t</text>
<text transform="translate(46.40,459.07) rotate(-90) scale(0.6167,0.5960)" font-size="100">e</text>
<text transform="translate(46.40,426.41) rotate(-90) scale(0.6021,0.5960)" font-size="100">n</text>
<text transform="translate(46.40,390.38) rotate(-90) scale(0.5938,0.5960)" font-size="100">s</text>
<text transform="translate(46.40,355.40) rotate(-90) scale(0.5852,0.6050)" font-size="100">i</text>
<text transform="translate(46.40,339.10) rotate(-90) scale(0.6000,0.6400)" font-size="100">t</text>
<text transform="translate(46.40,317.62) rotate(-90) scale(0.5241,0.5900)" font-size="100">y</text>
<text transform="translate(46.40,269.69) rotate(-90) scale(0.5179,0.5960)" font-size="100">(</text>
<text transform="translate(46.40,249.64) rotate(-90) scale(0.5472,0.5960)" font-size="100">a</text>
<text transform="translate(46.40,216.45) rotate(-90) scale(0.5643,0.6000)" font-size="100">.</text>
<text transform="translate(46.40,200.01) rotate(-90) scale(0.5691,0.5960)" font-size="100">u</text>
<text transform="translate(46.40,164.00) rotate(-90) scale(0.5571,0.6000)" font-size="100">.</text>
<text transform="translate(46.40,145.76) rotate(-90) scale(0.5214,0.5960)" font-size="100">)</text>
</g>
</svg>
</body></html>
